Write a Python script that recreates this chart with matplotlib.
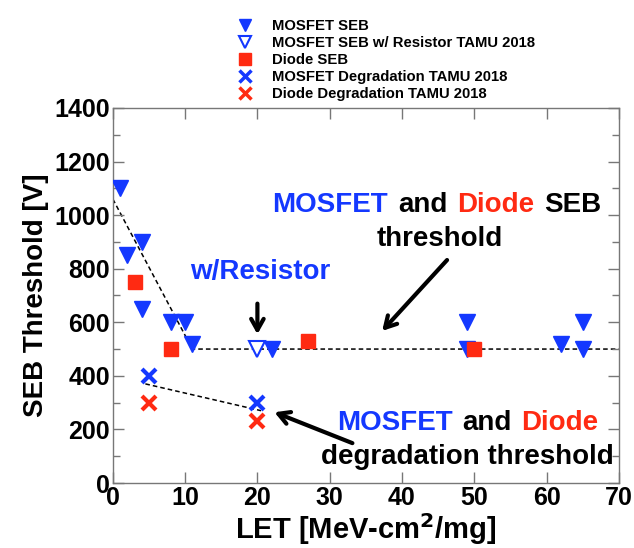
import matplotlib
matplotlib.use("Agg")
import matplotlib.pyplot as plt
from matplotlib.lines import Line2D
from matplotlib.offsetbox import TextArea, HPacker, AnnotationBbox

plt.rcParams["font.family"] = ["Liberation Sans", "DejaVu Sans"]
plt.rcParams["font.weight"] = "bold"

blue = "#1438ff"
red = "#ff2a12"

# data
mosfet_seb_let = [1, 2, 4, 4, 8, 10, 11, 22, 49, 49, 62, 65, 65]
mosfet_seb_v = [1100, 850, 900, 650, 600, 600, 520, 500, 600, 500, 520, 600, 500]

mosfet_res_let = [20]
mosfet_res_v = [500]

diode_seb_let = [3, 8, 27, 50]
diode_seb_v = [750, 500, 530, 500]

mosfet_deg_let = [5, 20]
mosfet_deg_v = [400, 300]

diode_deg_let = [5, 20]
diode_deg_v = [300, 230]

# guide lines
seb_fit_let = [0, 11, 70]
seb_fit_v = [1060, 500, 500]
deg_fit_let = [4.5, 20.5]
deg_fit_v = [370, 270]

fig = plt.figure(figsize=(6.34, 5.48), dpi=100)
ax = fig.add_axes([0.178, 0.1186, 0.798, 0.6844])

ax.plot(seb_fit_let, seb_fit_v, ls=(0, (3, 2)), color="black", lw=1.1, zorder=1)
ax.plot(deg_fit_let, deg_fit_v, ls=(0, (3, 2)), color="black", lw=1.1, zorder=1)

ax.plot(mosfet_seb_let, mosfet_seb_v, "v", ms=12, color=blue, ls="none", zorder=3)
ax.plot(mosfet_res_let, mosfet_res_v, "v", ms=12, mfc="white", mec=blue, mew=1.5, ls="none", zorder=3)
ax.plot(diode_seb_let, diode_seb_v, "s", ms=10, color=red, ls="none", zorder=3)
ax.plot(mosfet_deg_let, mosfet_deg_v, "x", ms=10, mew=3, color=blue, ls="none", zorder=3)
ax.plot(diode_deg_let, diode_deg_v, "x", ms=10, mew=3, color=red, ls="none", zorder=3)

ax.set_xlim(0, 70)
ax.set_ylim(0, 1400)
ax.set_xticks(range(0, 71, 10))
ax.set_yticks(range(0, 1401, 200))
ax.set_yticks(range(100, 1400, 200), minor=True)
ax.tick_params(which="both", direction="in", top=True, right=True, color="#777777",
               labelsize=18, pad=2)
ax.tick_params(which="major", length=8, width=1)
ax.tick_params(which="minor", length=5, width=1)
for s in ax.spines.values():
    s.set_color("#777777")
    s.set_linewidth(1)

ax.set_xlabel("LET [MeV-cm$^{\\mathbf{2}}$/mg]", fontsize=21, fontweight="bold", labelpad=1)
ax.set_ylabel("SEB Threshold [V]", fontsize=20, fontweight="bold", labelpad=4)


def colored_text(parts, x, y):
    boxes = [TextArea(t, textprops=dict(color=c, fontsize=20, fontweight="bold")) for t, c in parts]
    pack = HPacker(children=boxes, align="baseline", pad=0, sep=7)
    ab = AnnotationBbox(pack, (x, y), xycoords="data", frameon=False, box_alignment=(0.5, 0.5))
    ax.add_artist(ab)


colored_text([("MOSFET", blue), ("and", "black"), ("Diode", red), ("SEB", "black")], 44.8, 1037)
ax.text(45.2, 910, "threshold", fontsize=20, fontweight="bold", ha="center", va="center")
ax.text(20.4, 787, "w/Resistor", fontsize=20, fontweight="bold", color=blue, ha="center", va="center")
colored_text([("MOSFET", blue), ("and", "black"), ("Diode", red)], 49.1, 224)
ax.text(49.1, 97, "degradation threshold", fontsize=20, fontweight="bold", ha="center", va="center")

arrow = dict(arrowstyle="->,head_length=0.8,head_width=0.45", lw=3, color="black")
ax.annotate("", xy=(20, 545), xytext=(20, 680), arrowprops=arrow)
ax.annotate("", xy=(37, 560), xytext=(46.5, 840), arrowprops=arrow)
ax.annotate("", xy=(22, 268), xytext=(33.5, 145), arrowprops=arrow)

handles = [
    Line2D([], [], marker="v", ms=9, color=blue, ls="none"),
    Line2D([], [], marker="v", ms=9, mfc="white", mec=blue, mew=1.5, ls="none"),
    Line2D([], [], marker="s", ms=8, color=red, ls="none"),
    Line2D([], [], marker="x", ms=8, mew=2.5, color=blue, ls="none"),
    Line2D([], [], marker="x", ms=8, mew=2.5, color=red, ls="none"),
]
labels = ["MOSFET SEB", "MOSFET SEB w/ Resistor TAMU 2018", "Diode SEB",
          "MOSFET Degradation TAMU 2018", "Diode Degradation TAMU 2018"]
fig.legend(handles, labels, loc="upper left", bbox_to_anchor=(0.361, 0.978),
           frameon=False, handletextpad=1.2, labelspacing=0.2,
           borderpad=0, handlelength=1.2, prop=dict(weight="bold", size=10.7))

fig.savefig("out.png", dpi=100)
